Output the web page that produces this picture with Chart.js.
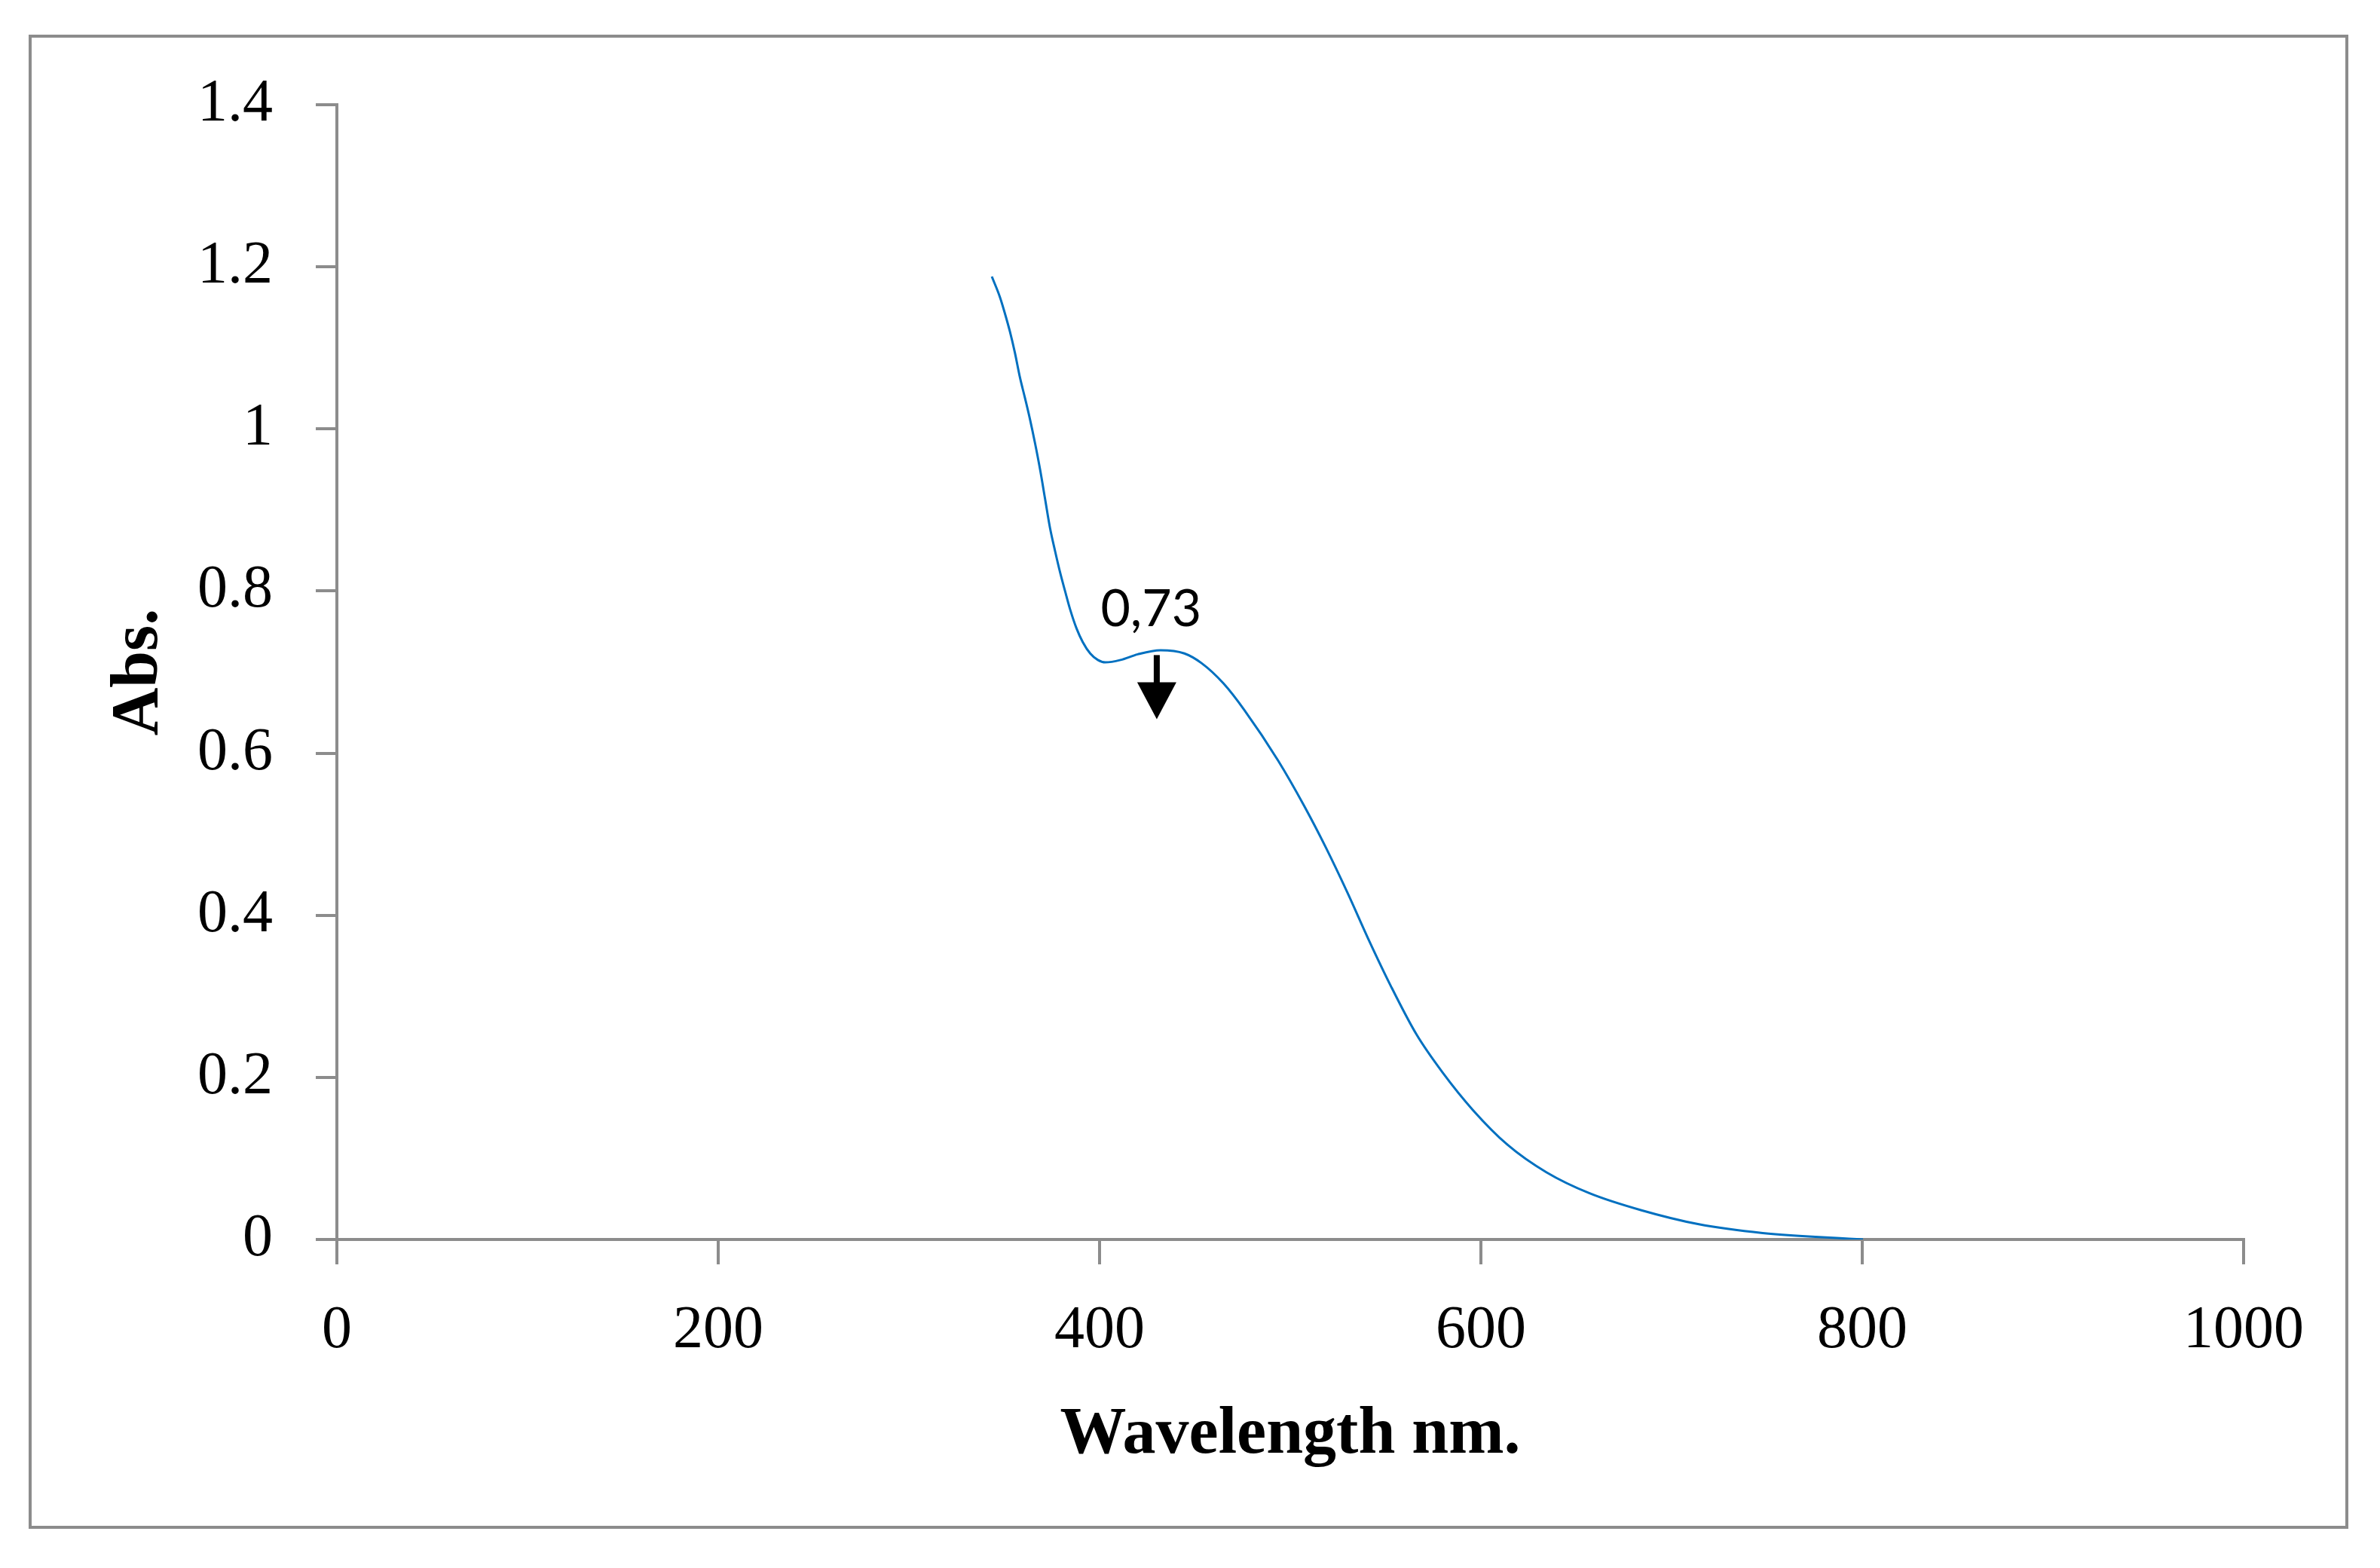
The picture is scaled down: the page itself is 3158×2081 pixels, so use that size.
<!DOCTYPE html>
<html>
<head>
<meta charset="utf-8">
<script src="https://cdn.jsdelivr.net/npm/chart.js@4/dist/chart.umd.min.js"></script>
<style>
  html, body { margin: 0; padding: 0; background: #ffffff; }
  #c { display: block; }
</style>
</head>
<body>
<canvas id="c" width="3158" height="2081" style="width:3158px;height:2081px"></canvas>
<script>
// ---- data ----
const wavelengths = [343.5, 347.7, 350.3, 353, 355.6, 358.2, 360.9, 363.5, 366.1, 368.8, 371.4, 374, 376.7, 379.3, 381.9, 384.6, 387.9, 391.2, 395.1, 399.1, 403, 411, 420, 432, 444.5, 453.5, 465, 476, 493.6, 507.3, 518.6, 530, 541.3, 552.7, 566.2, 579.9, 595.7, 613.9, 634.3, 657, 684.2, 713.8, 747.8, 800.4];
const absorbance  = [1.188, 1.163, 1.143, 1.120, 1.094, 1.064, 1.038, 1.012, 0.983, 0.950, 0.914, 0.878, 0.849, 0.823, 0.800, 0.777, 0.754, 0.737, 0.723, 0.715, 0.712, 0.715, 0.722, 0.727, 0.723, 0.711, 0.686, 0.653, 0.591, 0.535, 0.484, 0.428, 0.369, 0.313, 0.253, 0.206, 0.160, 0.117, 0.083, 0.057, 0.036, 0.019, 0.008, 0.0];
const xTickValues = [0, 200, 400, 600, 800, 1000];
const xTickLabels = ["0", "200", "400", "600", "800", "1000"];
const yTickValues = [0, 0.2, 0.4, 0.6, 0.8, 1, 1.2, 1.4];
const yTickLabels = ["0", "0.2", "0.4", "0.6", "0.8", "1", "1.2", "1.4"];
const xTitle = "Wavelength nm.";
const yTitle = "Abs.";
const peakLabel = "0,73";
const peakArrow = [430, 0.721, 0.642]; // x, y start, y tip (data units)
const peakLabelPos = [427, 0.757];     // x, baseline y (data units)

const points = wavelengths.map((w, i) => ({ x: w, y: absorbance[i] }));
const axisGray = '#8c8c8c';

const frame = {
  id: 'frame',
  beforeDraw(chart) {
    const ctx = chart.ctx;
    ctx.save();
    ctx.fillStyle = '#ffffff';
    ctx.fillRect(0, 0, chart.width, chart.height);
    ctx.strokeStyle = axisGray;
    ctx.lineWidth = 4;
    ctx.strokeRect(40, 48, 3074, 1979);
    ctx.restore();
  }
};

const annot = {
  id: 'annot',
  afterDatasetsDraw(chart) {
    const ctx = chart.ctx;
    const xs = chart.scales.x, ys = chart.scales.y;
    ctx.save();
    ctx.fillStyle = '#000000';
    ctx.font = '68px Lato';
    ctx.textAlign = 'center';
    ctx.textBaseline = 'alphabetic';
    ctx.fillText(peakLabel, xs.getPixelForValue(peakLabelPos[0]), ys.getPixelForValue(peakLabelPos[1]));
    const ax = xs.getPixelForValue(peakArrow[0]);
    const y0 = ys.getPixelForValue(peakArrow[1]);
    const yt = ys.getPixelForValue(peakArrow[2]);
    const headH = 49, headW = 52;
    ctx.strokeStyle = '#000000';
    ctx.lineWidth = 8;
    ctx.beginPath();
    ctx.moveTo(ax, y0);
    ctx.lineTo(ax, yt - headH + 2);
    ctx.stroke();
    ctx.beginPath();
    ctx.moveTo(ax - headW / 2, yt - headH);
    ctx.lineTo(ax + headW / 2, yt - headH);
    ctx.lineTo(ax, yt);
    ctx.closePath();
    ctx.fill();
    ctx.restore();
  }
};

new Chart(document.getElementById('c'), {
  type: 'scatter',
  data: {
    datasets: [{
      data: points,
      showLine: true,
      borderColor: '#0070C0',
      borderWidth: 3,
      pointRadius: 0,
      fill: false,
      cubicInterpolationMode: 'monotone'
    }]
  },
  options: {
    responsive: false,
    devicePixelRatio: 1,
    animation: false,
    layout: { padding: { left: 0, top: 139, right: 181, bottom: 0 } },
    plugins: { legend: { display: false }, tooltip: { enabled: false } },
    scales: {
      x: {
        type: 'linear',
        min: 0, max: 1000,
        afterBuildTicks(scale) { scale.ticks = xTickValues.map(v => ({ value: v })); },
        afterFit(scale) { scale.height = 436; },
        ticks: {
          color: '#000000',
          font: { family: 'Liberation Serif', size: 80, lineHeight: 1.2 },
          padding: 41,
          maxRotation: 0,
          autoSkip: false,
          callback: (v) => { const i = xTickValues.indexOf(v); return i >= 0 ? xTickLabels[i] : ''; }
        },
        grid: { drawOnChartArea: false, drawTicks: true, tickLength: 33, color: axisGray, lineWidth: 4 },
        border: { display: true, color: axisGray, width: 4 },
        title: {
          display: true, text: xTitle, color: '#000000',
          font: { family: 'Liberation Serif', size: 88, weight: 'bold', lineHeight: 1.2 },
          padding: { top: 0, bottom: 123 }
        }
      },
      y: {
        type: 'linear',
        min: 0, max: 1.4,
        afterBuildTicks(scale) { scale.ticks = yTickValues.map(v => ({ value: v })); },
        afterFit(scale) { scale.width = 447; },
        ticks: {
          color: '#000000',
          font: { family: 'Liberation Serif', size: 80, lineHeight: 1.2 },
          padding: 57,
          autoSkip: false,
          callback: (v) => { const i = yTickValues.findIndex(t => Math.abs(t - v) < 1e-9); return i >= 0 ? yTickLabels[i] : ''; }
        },
        grid: { drawOnChartArea: false, drawTicks: true, tickLength: 28, color: axisGray, lineWidth: 4 },
        border: { display: true, color: axisGray, width: 4 },
        title: {
          display: true, text: yTitle, color: '#000000',
          font: { family: 'Liberation Serif', size: 88, weight: 'bold', lineHeight: 1.2 },
          padding: { top: 132, bottom: 0 }
        }
      }
    }
  },
  plugins: [frame, annot]
});
</script>
</body>
</html>
